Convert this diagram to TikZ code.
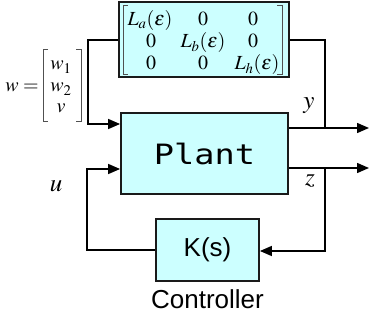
\documentclass[tikz,border=0pt]{standalone}
\usepackage{amsmath}
\usepackage{mathptmx}
\usepackage{fontspec}
\usetikzlibrary{arrows.meta}
\newfontfamily\monofont{DejaVu Sans Mono}
\newfontfamily\arialfont{Liberation Sans}
\definecolor{boxfill}{HTML}{CCFFFF}
\definecolor{boxline}{HTML}{1A1A1A}
\definecolor{brk}{HTML}{505050}
\begin{document}
\begin{tikzpicture}[x=1pt,y=-1pt,
  blk/.style={draw=boxline, line width=1.8pt, fill=boxfill, inner sep=0pt},
  wire/.style={draw=black, line width=1.5pt},
  arr/.style={wire, -{Triangle[length=12pt,width=10pt]}},
  lbl/.style={inner sep=0pt},
  ment/.style={inner sep=0pt, anchor=base, font=\fontsize{20}{22}\selectfont},
  went/.style={inner sep=0pt, anchor=base, font=\fontsize{20}{22}\selectfont},
  bracket/.style={draw=brk, line width=0.9pt}]
\useasboundingbox (0,0) rectangle (369,320);
% blocks
\node[blk, minimum width=170, minimum height=75] (mat) at (204,39.5) {};
\node[blk, minimum width=167, minimum height=81] (plant) at (204.5,153.5)
  {\fontsize{28}{30}\selectfont\monofont\scalebox{1.2}[1]{Plant}};
\node[blk, minimum width=103, minimum height=62] (K) at (207.5,250)
  {\fontsize{26}{28}\selectfont\arialfont K(s)};
\node[lbl, font=\fontsize{26}{28}\selectfont\arialfont, anchor=base] (ctl) at (207.5,308) {Controller};
% matrix entries
\node[ment] (m11) at (150,26) {$L_a(\varepsilon)$};
\node[ment] (m12) at (203,26) {$0$};
\node[ment] (m13) at (253,26) {$0$};
\node[ment] (m21) at (151,48) {$0$};
\node[ment] (m22) at (203,48) {$L_b(\varepsilon)$};
\node[ment] (m23) at (253,48) {$0$};
\node[ment] (m31) at (151,70) {$0$};
\node[ment] (m32) at (203,70) {$0$};
\node[ment] (m33) at (257,70) {$L_h(\varepsilon)$};
\draw[bracket] (128,5) -- (123,5) -- (123,74) -- (128,74);
\draw[bracket] (277,5) -- (282,5) -- (282,74) -- (277,74);
% w vector
\node[went] (weq) at (22,92) {$w=$};
\node[went] (w1) at (61,70) {$w_1$};
\node[went] (w2) at (61,92) {$w_2$};
\node[went] (wv) at (61,113) {$v$};
\draw[bracket] (48,49) -- (43,49) -- (43,121) -- (48,121);
\draw[bracket] (76,49) -- (81,49) -- (81,121) -- (76,121);
% labels
\node[lbl, font=\fontsize{25}{27}\selectfont] (ulbl) at (56,186) {$u$};
\node[lbl, font=\fontsize{25}{27}\selectfont] (ylbl) at (309,106) {$y$};
\node[lbl, font=\fontsize{25}{27}\selectfont] (zlbl) at (310,181) {$z$};
% coordinates
\coordinate (tl) at (88,40);
\coordinate (pin1) at (plant.west |- 0,124);
\coordinate (tr) at (325,40);
\coordinate (yj) at (325,128);
\coordinate (yout) at (369,128);
\coordinate (pout1) at (plant.east |- yout);
\coordinate (zout) at (369,168);
\coordinate (pout2) at (plant.east |- zout);
\coordinate (zj) at (325,168);
\coordinate (kr) at (325,251);
\coordinate (kin) at (K.east |- kr);
\coordinate (kl) at (87,250);
\coordinate (ul) at (87,169);
\coordinate (pin2) at (plant.west |- ul);
% wires
\draw[arr] (mat.west |- tl) -- (tl) -- (tl |- pin1) -- (pin1);
\draw[wire] (mat.east |- tr) -- (tr) -- (yj);
\draw[arr] (pout1) -- (yout);
\draw[arr] (pout2) -- (zout);
\draw[arr] (zj) -- (kr) -- (kin);
\draw[arr] (K.west |- kl) -- (kl) -- (ul) -- (pin2);
\end{tikzpicture}
\end{document}
